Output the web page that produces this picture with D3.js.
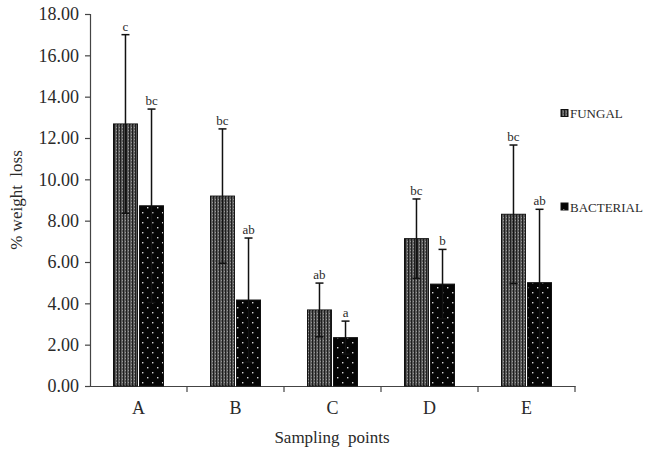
<!DOCTYPE html>
<html>
<head>
<meta charset="utf-8">
<script src="https://cdn.jsdelivr.net/npm/d3@7/dist/d3.min.js"></script>
<style>
  html, body { margin: 0; padding: 0; background: #fff; }
  svg { display: block; }
</style>
</head>
<body>
<svg id="chart" width="650" height="453"></svg>
<script>
const categories = ["A", "B", "C", "D", "E"];
const seriesNames = ["FUNGAL", "BACTERIAL"];
const fungal = [12.68, 9.19, 3.68, 7.13, 8.31];
const fungalErr = [4.32, 3.25, 1.30, 1.92, 3.35];
const fungalLetters = ["c", "bc", "ab", "bc", "bc"];
const bacterial = [8.72, 4.16, 2.34, 4.93, 5.00];
const bacterialErr = [4.68, 3.00, 0.80, 1.68, 3.55];
const bacterialLetters = ["bc", "ab", "a", "b", "ab"];
const yTicks = [0, 2, 4, 6, 8, 10, 12, 14, 16, 18];

const FONT = "'Liberation Serif', 'Times New Roman', serif";
const TXT = "#2a2a2a";

const svg = d3.select("#chart").style("font-family", FONT);
const defs = svg.append("defs");

// Fungal pattern: dark gray with dense vertical stripes
const pf = defs.append("pattern").attr("id", "pFungal")
  .attr("patternUnits", "userSpaceOnUse").attr("width", 3).attr("height", 3);
pf.append("rect").attr("width", 3).attr("height", 3).attr("fill", "#5c5c5c");
pf.append("rect").attr("x", 0).attr("width", 1).attr("height", 3).attr("fill", "#1e1e1e");
pf.append("rect").attr("x", 2).attr("y", 1).attr("width", 1).attr("height", 1).attr("fill", "#9a9a9a");

// Bacterial pattern: black with small white dots
const pb = defs.append("pattern").attr("id", "pBacterial")
  .attr("patternUnits", "userSpaceOnUse").attr("width", 10).attr("height", 10);
pb.append("rect").attr("width", 10).attr("height", 10).attr("fill", "#050505");
pb.append("rect").attr("x", 2).attr("y", 2).attr("width", 1.4).attr("height", 1.4).attr("fill", "#d8d8d8");
pb.append("rect").attr("x", 7).attr("y", 7).attr("width", 1.4).attr("height", 1.4).attr("fill", "#d8d8d8");

const fills = { FUNGAL: "url(#pFungal)", BACTERIAL: "url(#pBacterial)" };

const x0 = d3.scaleBand().domain(categories).range([90, 575]).padding(0);
const groupW = 50;
const x1 = d3.scaleBand().domain(seriesNames).range([0, groupW]).paddingInner(0.08);
const y = d3.scaleLinear().domain([0, 18]).range([386, 14]);

// Y axis
const yAxis = d3.axisLeft(y).tickValues(yTicks).tickFormat(d3.format(".2f")).tickSize(5).tickPadding(6);
const gy = svg.append("g").attr("transform", "translate(90,0)").call(yAxis);
gy.attr("font-family", FONT);
gy.select(".domain").attr("stroke", "#444").attr("stroke-width", 1.2);
gy.selectAll(".tick line").attr("stroke", "#444").attr("stroke-width", 1.2);
gy.selectAll(".tick text").style("font-size", "18px").attr("fill", TXT).style("font-family", FONT);

// X axis
const xAxis = d3.axisBottom(x0).tickSize(0).tickPadding(15);
const gx = svg.append("g").attr("transform", `translate(0,${y(0)})`).call(xAxis);
gx.attr("font-family", FONT);
gx.select(".domain").attr("stroke", "#444").attr("stroke-width", 1.2);
gx.selectAll(".tick text").style("font-size", "18px").attr("fill", TXT).style("font-family", FONT);
// boundary ticks
svg.append("g").selectAll("line").data(categories).join("line")
  .attr("x1", d => x0(d) + x0.bandwidth()).attr("x2", d => x0(d) + x0.bandwidth())
  .attr("y1", y(0)).attr("y2", y(0) + 6)
  .attr("stroke", "#444").attr("stroke-width", 1.2);

// Data rows
const rows = [];
categories.forEach((c, i) => {
  rows.push({ cat: c, s: "FUNGAL", v: fungal[i], e: fungalErr[i], l: fungalLetters[i] });
  rows.push({ cat: c, s: "BACTERIAL", v: bacterial[i], e: bacterialErr[i], l: bacterialLetters[i] });
});
const bx = d => x0(d.cat) + x0.bandwidth() / 2 - groupW / 2 + x1(d.s);
const cx = d => bx(d) + x1.bandwidth() / 2;

// Bars
svg.append("g").selectAll("rect").data(rows).join("rect")
  .attr("x", bx).attr("width", x1.bandwidth())
  .attr("y", d => y(d.v)).attr("height", d => y(0) - y(d.v))
  .attr("fill", d => fills[d.s]).attr("stroke", "#111").attr("stroke-width", 1);

// Error bars
const eb = svg.append("g").attr("stroke", "#111").attr("stroke-width", 1.5);
eb.selectAll("line.v").data(rows).join("line").attr("class", "v")
  .attr("x1", cx).attr("x2", cx)
  .attr("y1", d => y(d.v + d.e)).attr("y2", d => y(d.v - d.e));
eb.selectAll("line.top").data(rows).join("line").attr("class", "top")
  .attr("x1", d => cx(d) - 4).attr("x2", d => cx(d) + 4)
  .attr("y1", d => y(d.v + d.e)).attr("y2", d => y(d.v + d.e));
eb.selectAll("line.bot").data(rows).join("line").attr("class", "bot")
  .attr("x1", d => cx(d) - 4).attr("x2", d => cx(d) + 4)
  .attr("y1", d => y(d.v - d.e)).attr("y2", d => y(d.v - d.e));

// Significance letters
svg.append("g").selectAll("text").data(rows).join("text")
  .attr("x", cx).attr("y", d => y(d.v + d.e) - 4)
  .attr("text-anchor", "middle").attr("fill", TXT)
  .style("font-family", FONT).style("font-size", "13px").text(d => d.l);

// Axis titles
svg.append("text").attr("x", 332).attr("y", 443).attr("text-anchor", "middle")
  .attr("fill", TXT).style("font-family", FONT)
  .style("font-size", "17px").style("white-space", "pre").attr("xml:space", "preserve")
  .text("Sampling  points");
svg.append("text").attr("transform", "translate(22,200) rotate(-90)").attr("text-anchor", "middle")
  .attr("fill", TXT).style("font-family", FONT)
  .style("font-size", "17px").attr("xml:space", "preserve").style("white-space", "pre")
  .text("% weight  loss");

// Legend
const legY = { FUNGAL: 113.5, BACTERIAL: 207 };
const lg = svg.append("g").selectAll("g").data(seriesNames).join("g")
  .attr("transform", d => `translate(561,${legY[d]})`);
lg.append("rect").attr("x", 0).attr("y", -4).attr("width", 7).attr("height", 7)
  .attr("fill", d => fills[d]).attr("stroke", "#111").attr("stroke-width", 1);
lg.append("text").attr("x", 9).attr("y", 4.5).attr("fill", TXT)
  .style("font-family", FONT).style("font-size", "13px").text(d => d);
</script>
</body>
</html>
